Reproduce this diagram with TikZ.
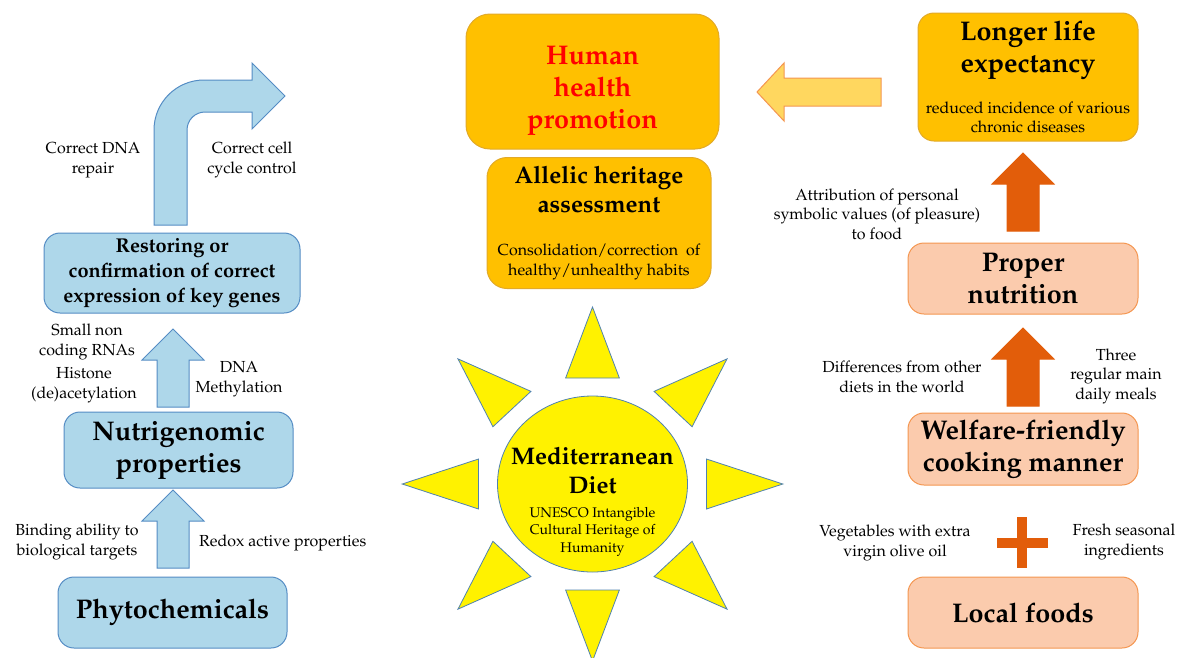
\documentclass[tikz,border=0pt]{standalone}
\usepackage[T1]{fontenc}
\usepackage{mathpazo}
\usetikzlibrary{shapes.geometric,calc}

\definecolor{bluefill}{RGB}{174,215,234}
\definecolor{blueline}{RGB}{84,140,196}
\definecolor{goldfill}{RGB}{255,192,0}
\definecolor{goldline}{RGB}{226,170,40}
\definecolor{salmonfill}{RGB}{251,203,173}
\definecolor{salmonline}{RGB}{244,150,80}
\definecolor{deeporange}{RGB}{226,93,10}
\definecolor{paleorange}{RGB}{255,215,95}
\definecolor{sunline}{RGB}{80,130,175}

% font size with natural word spacing
\newcommand{\setfs}[2]{\fontsize{#1}{#2}\selectfont\spaceskip=\fontdimen2\font\relax}

\tikzset{
  box/.style={draw, line width=1, rounded corners=16, align=center, inner sep=0},
  bluebox/.style={box, draw=blueline, fill=bluefill},
  goldbox/.style={box, draw=goldline, fill=goldfill},
  salmonbox/.style={box, draw=salmonline, fill=salmonfill},
  bigtext/.style={font=\fontsize{27}{32}\selectfont\bfseries},
  midtext/.style={font=\fontsize{20}{25}\selectfont\bfseries},
  note/.style={font=\fontsize{16}{19.5}\selectfont, align=center, inner sep=0},
  bluearrow/.style={draw=blueline, fill=bluefill, line width=1},
  hotarrow/.style={draw=deeporange, fill=deeporange, line width=1},
  ray/.style={draw=sunline, fill=yellow, line width=0.8},
  pics/uparr/.style={code={
    \draw[pic actions] (-16,0) -- (-16,-47) -- (-31,-47) -- (0,-78)
      -- (31,-47) -- (16,-47) -- (16,0) -- cycle;
  }}
}

\begin{document}
\begin{tikzpicture}[x=1pt,y=-1pt]
\useasboundingbox (0,0) rectangle (1178,657);

% left column
\node[bluebox, bigtext, minimum width=229, minimum height=71] (phyto) at (172.5,612.5) {Phytochemicals};
\node[bluebox, bigtext, minimum width=229, minimum height=76] (nutri) at (178.5,450) {Nutrigenomic\\properties};
\node[bluebox, midtext, minimum width=256, minimum height=80] (restore) at (172,273) {Restoring or\\confirmation of correct\\expression of key genes};

\pic[bluearrow] at (173,568) {uparr};
\pic[bluearrow] at (173,407) {uparr};
\draw[bluearrow] (154,225) -- (154,130) arc[start angle=180, end angle=270, radius=50]
  -- (252,80) -- (252,63) -- (285,96) -- (252,129) -- (252,112) -- (205,112)
  arc[start angle=270, end angle=180, radius=18] -- (187,225) -- cycle;

\node[note] (binding) at (77,542) {Binding ability to\\biological targets};
\node[note, anchor=west] (redox) at (199,543) {Redox active properties};
\node[note] (smallrna) at (87,342) {Small non\\coding RNAs};
\node[note] (histone) at (84,385) {Histone\\(de)acetylation};
\node[note] (methyl) at (239,379) {DNA\\Methylation};
\node[note] (repair) at (93,160) {Correct DNA\\repair};
\node[note] (cycle) at (252,160) {Correct cell\\cycle control};

% middle
\node[goldbox, bigtext, text=red, rounded corners=24, minimum width=253, minimum height=135] (health) at (592.5,81.5) {\rule{0pt}{37pt}Human\\health\\promotion};
\node[goldbox, rounded corners=20, text width=224, minimum height=131] (allelic) at (599,223)
  {{\setfs{24}{29}\bfseries Allelic heritage\\assessment\par}\vspace{24pt}
   {\setfs{16}{19.5}Consolidation/correction\ \ of\\healthy/unhealthy habits\par}};

\node[ellipse, draw=sunline, fill=yellow, line width=0.8, inner sep=0, minimum width=190, minimum height=176] (sun) at (592.5,484) {};
\begin{scope}[shift={(sun.center)}, xscale=1.075]
  \foreach \a in {0,45,...,315}
    \draw[ray, rotate=\a] (106,-25) -- (177,0) -- (106,25) -- cycle;
\end{scope}
\node[text width=180, align=center, inner sep=0] (sunlabel) at (592.5,502)
  {{\setfs{24}{29}\bfseries Mediterranean\\Diet\par}\vspace{6pt}
   {\setfs{14}{17.5}UNESCO Intangible\\Cultural Heritage of\\Humanity\par}};

% right column
\node[goldbox, text width=220, minimum height=128] (longer) at (1028,77)
  {{\setfs{27}{32}\bfseries Longer life\\expectancy\par}\vspace{21pt}
   {\setfs{16}{19.5}reduced incidence of various\\chronic diseases\par}};
\node[salmonbox, bigtext, minimum width=230, minimum height=71] (proper) at (1023,278.5) {Proper\\nutrition};
\node[salmonbox, bigtext, minimum width=230, minimum height=72] (welfare) at (1023,449) {Welfare-friendly\\cooking manner};
\node[salmonbox, bigtext, minimum width=230, minimum height=71] (local) at (1023,612.5) {Local foods};

\draw[draw=salmonline, fill=paleorange, line width=1] (881,78) -- (784,78) -- (784,63) -- (757,92)
  -- (784,121) -- (784,106) -- (881,106) -- cycle;
\pic[hotarrow] at (1023,231) {uparr};
\pic[hotarrow] at (1023,406) {uparr};
\fill[deeporange] (1017,517) rectangle (1027,568);
\fill[deeporange] (997,538) rectangle (1048,548);

\node[note] (symbolic) at (877,214) {Attribution of personal\\symbolic values (of pleasure)\\to food};
\node[note] (otherdiets) at (902,377) {Differences from other\\diets in the world};
\node[note] (meals) at (1116,376) {Three\\regular main\\daily meals};
\node[note] (olive) at (895,543) {Vegetables with extra\\virgin olive oil};
\node[note] (seasonal) at (1124,542) {Fresh seasonal\\ingredients};
\end{tikzpicture}
\end{document}
